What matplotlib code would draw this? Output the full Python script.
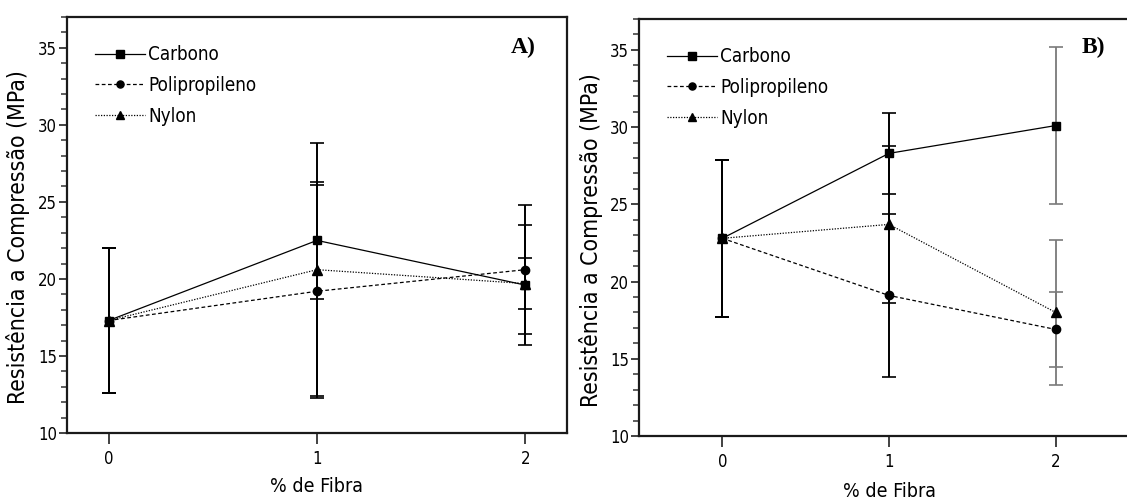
import matplotlib
matplotlib.use('Agg')
import matplotlib.pyplot as plt
from matplotlib import font_manager

# pick a narrow sans for axis text, fall back to condensed DejaVu
installed = {f.name for f in font_manager.fontManager.ttflist}
if 'Liberation Sans Narrow' in installed:
    SANS = 'Liberation Sans Narrow'
    STRETCH = 'normal'
else:
    SANS = 'DejaVu Sans'
    STRETCH = 'condensed'
plt.rcParams['font.family'] = [SANS, 'DejaVu Sans']
plt.rcParams['font.stretch'] = STRETCH

fibra = [0, 1, 2]
series = ['Carbono', 'Polipropileno', 'Nylon']

# panel A
a_carbono = [17.3, 22.5, 19.6]
a_carbono_err = [4.7, 3.8, 3.9]
a_polip = [17.3, 19.2, 20.6]
a_polip_err = [4.7, 6.9, 4.2]
a_nylon = [17.3, 20.6, 19.7]
a_nylon_err = [4.7, 8.2, 1.65]

# panel B
b_carbono = [22.8, 28.3, 30.1]
b_carbono_err = [5.1, 2.6, 5.1]
b_polip = [22.8, 19.1, 16.9]
b_polip_err = [5.1, 5.3, 2.4]
b_nylon = [22.8, 23.7, 18.0]
b_nylon_err = [5.1, 5.1, 4.7]

styles = {
    'Carbono': dict(ls='-', marker='s', ms=6, z=5),
    'Polipropileno': dict(ls=(0, (3, 2)), marker='o', ms=6, z=3),
    'Nylon': dict(ls=(0, (1, 1.2)), marker='^', ms=7.5, z=4),
}

W, H = 1127, 500
fig = plt.figure(figsize=(W / 100, H / 100), dpi=100)
ax_a = fig.add_axes([67 / W, (H - 433) / H, 500 / W, 416 / H])
ax_b = fig.add_axes([639 / W, (H - 436) / H, 500 / W, 417 / H])


def draw_panel(ax, vals, errs, xlim, tag, last_gray=False):
    for name, y, e in zip(series, vals, errs):
        st = styles[name]
        if last_gray:
            ax.errorbar(fibra[:2], y[:2], yerr=e[:2], fmt='none', ecolor='black',
                        elinewidth=1.4, capsize=5, capthick=1.2, zorder=2)
            ax.errorbar(fibra[2:], y[2:], yerr=e[2:], fmt='none', ecolor='#7a7a7a',
                        elinewidth=1.3, capsize=5, capthick=1.2, zorder=2)
        else:
            ax.errorbar(fibra, y, yerr=e, fmt='none', ecolor='black',
                        elinewidth=1.4, capsize=5, capthick=1.2, zorder=2)
        ax.plot(fibra, y, color='black', lw=0.9, ls=st['ls'], marker=st['marker'],
                ms=st['ms'], label=name, zorder=st['z'])

    ax.set_xlim(*xlim)
    ax.set_ylim(10, 37)
    ax.set_xticks([0, 1, 2])
    ax.set_yticks([10, 15, 20, 25, 30, 35])
    ax.set_yticks(range(10, 38), minor=True)
    ax.tick_params(axis='both', which='major', direction='out', labelsize=12,
                   width=1.3, color='#333333')
    ax.tick_params(axis='y', which='major', length=6, pad=1)
    ax.tick_params(axis='x', which='major', length=8, pad=4)
    ax.tick_params(axis='y', which='minor', length=4, width=1.1, color='#333333')
    for sp in ax.spines.values():
        sp.set_linewidth(1.6)
        sp.set_color('#1a1a1a')

    ax.set_ylabel('Resistência a Compressão (MPa)', fontsize=16.5)
    ax.set_xlabel('% de Fibra', fontsize=14)

    ax.legend(loc='upper left', bbox_to_anchor=(0.041, 0.95), frameon=False,
              fontsize=13.5, handlelength=2.65, handletextpad=0.2,
              labelspacing=0.62, numpoints=1, markerscale=0.85, borderaxespad=0)
    ax.text(0.912, 0.925, tag, transform=ax.transAxes, ha='center', va='center',
            fontsize=17, fontweight='bold', family='Liberation Serif', stretch='normal')


draw_panel(ax_a, [a_carbono, a_polip, a_nylon],
           [a_carbono_err, a_polip_err, a_nylon_err], (-0.2, 2.2), 'A)')
draw_panel(ax_b, [b_carbono, b_polip, b_nylon],
           [b_carbono_err, b_polip_err, b_nylon_err], (-0.5, 2.5), 'B)', last_gray=True)

ax_a.yaxis.set_label_coords(-0.074, 0.47)
ax_b.yaxis.set_label_coords(-0.072, 0.47)
ax_a.xaxis.set_label_coords(0.5, -0.105)
ax_b.xaxis.set_label_coords((889 - 639) / 500, -0.11)
ax_b.texts[0].set_position(((1093 - 639) / 500, (436 - 47) / 417))
ax_a.texts[0].set_position(((523 - 67) / 500, (433 - 47) / 416))

fig.savefig('out.png', dpi=100)
